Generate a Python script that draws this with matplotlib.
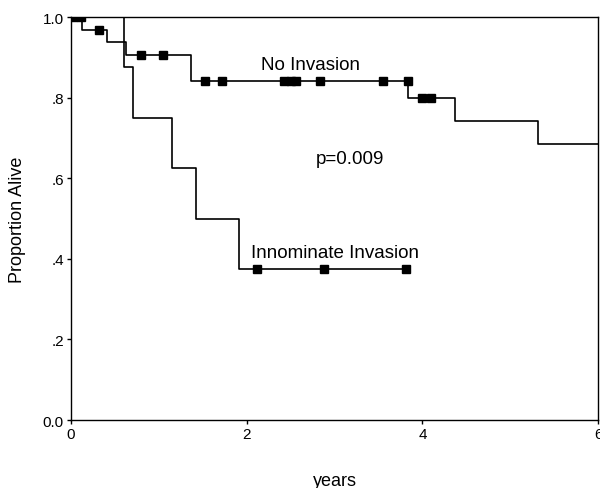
import numpy as np
import matplotlib.pyplot as plt

plt.rcParams['font.family'] = ['Liberation Sans', 'DejaVu Sans']

# Kaplan-Meier steps: (time of drop, survival after drop)
none_step_t = [0.0, 0.13, 0.41, 0.63, 1.37, 3.84, 4.37, 5.32, 6.0]
none_step_s = [1.0, 0.968, 0.938, 0.906, 0.842, 0.798, 0.741, 0.685, 0.685]
none_cens_t = [0.02, 0.12, 0.32, 0.80, 1.05, 1.53, 1.72, 2.42, 2.50, 2.56, 2.83, 3.55, 3.84, 4.00, 4.10]
none_cens_s = [1.0, 1.0, 0.968, 0.906, 0.906, 0.842, 0.842, 0.842, 0.842, 0.842, 0.842, 0.842, 0.842, 0.798, 0.798]

inno_step_t = [0.0, 0.60, 0.71, 1.15, 1.43, 1.91, 3.81]
inno_step_s = [1.0, 0.875, 0.75, 0.625, 0.5, 0.375, 0.375]
inno_cens_t = [2.12, 2.88, 3.81]
inno_cens_s = [0.375, 0.375, 0.375]

yticks = [0.0, 0.2, 0.4, 0.6, 0.8, 1.0]
yticklabels = ['0.0', '.2', '.4', '.6', '.8', '1.0']
xticks = [0, 2, 4, 6]

fig = plt.figure(figsize=(6.0, 4.89), dpi=100)
ax = fig.add_axes([0.118, 0.139, 0.879, 0.824])

ax.step(none_step_t, none_step_s, where='post', color='black', lw=1.2)
ax.plot(none_cens_t, none_cens_s, 's', color='black', ms=5.5, lw=0)
ax.step(inno_step_t, inno_step_s, where='post', color='black', lw=1.2)
ax.plot(inno_cens_t, inno_cens_s, 's', color='black', ms=5.5, lw=0)

ax.text(2.73, 0.883, 'No Invasion', ha='center', va='center', fontsize=13.5)
ax.text(3.18, 0.648, 'p=0.009', ha='center', va='center', fontsize=13.5)
ax.text(3.0, 0.417, 'Innominate Invasion', ha='center', va='center', fontsize=13.5)

ax.set_xlim(0, 6)
ax.set_ylim(0, 1.0)
ax.set_xticks(xticks)
ax.set_yticks(yticks)
ax.set_yticklabels(yticklabels)
ax.tick_params(direction='out', length=3, width=1, labelsize=11, pad=2)
for s in ax.spines.values():
    s.set_linewidth(1.0)

ax.set_xlabel('years', fontsize=13, labelpad=22)
ax.set_ylabel('Proportion Alive', fontsize=13, labelpad=12)

fig.savefig('out.png', dpi=100)
